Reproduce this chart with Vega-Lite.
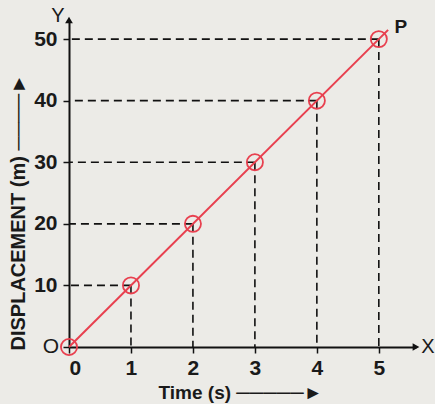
{
  "$schema": "https://vega.github.io/schema/vega-lite/v6.json",
  "width": 347,
  "height": 327,
  "autosize": "none",
  "padding": {"left": 69, "top": 20, "right": 19, "bottom": 57},
  "background": "#ecebe7",
  "config": {
    "view": {"stroke": null},
    "font": "Liberation Sans",
    "axis": {
      "grid": false,
      "domainColor": "#111111",
      "domainWidth": 2,
      "tickColor": "#111111",
      "tickWidth": 1.5,
      "tickSize": 6,
      "labelFont": "Liberation Sans",
      "labelFontSize": 21,
      "labelFontWeight": "bold",
      "labelColor": "#1a1a1a",
      "labelOverlap": false,
      "titleFont": "Liberation Sans",
      "titleColor": "#1a1a1a"
    }
  },
  "datasets": {
    "pts": [
      {"t": 0, "d": 0},
      {"t": 1, "d": 10},
      {"t": 2, "d": 20},
      {"t": 3, "d": 30},
      {"t": 4, "d": 40},
      {"t": 5, "d": 50}
    ],
    "line": [
      {"t": 0, "d": 0},
      {"t": 5.15, "d": 51.5}
    ],
    "labels": [
      {"t": 0, "d": 53.1, "text": "Y"},
      {"t": 5.6, "d": 0, "text": "X"},
      {"t": 0, "d": 0, "text": "O"},
      {"t": 5, "d": 50, "text": "P"}
    ]
  },
  "layer": [
    {
      "data": {"name": "pts"},
      "transform": [{"filter": "datum.t > 0"}],
      "mark": {"type": "rule", "color": "#111111", "strokeWidth": 1.6, "strokeDash": [8, 5]},
      "encoding": {
        "x": {"field": "t", "type": "quantitative", "scale": {"domain": [0, 5.6], "nice": false}},
        "x2": {"datum": 0},
        "y": {"field": "d", "type": "quantitative", "scale": {"domain": [0, 53.1], "nice": false}}
      }
    },
    {
      "data": {"name": "pts"},
      "transform": [{"filter": "datum.t > 0"}],
      "mark": {"type": "rule", "color": "#111111", "strokeWidth": 1.6, "strokeDash": [8, 5]},
      "encoding": {
        "x": {"field": "t", "type": "quantitative"},
        "y": {"field": "d", "type": "quantitative"},
        "y2": {"datum": 0}
      }
    },
    {
      "data": {"name": "line"},
      "mark": {"type": "line", "color": "#e8404f", "strokeWidth": 2},
      "encoding": {
        "x": {
          "field": "t", "type": "quantitative",
          "axis": {
            "values": [0, 0.5, 1, 1.5, 2, 2.5, 3, 3.5, 4, 4.5, 5],
            "labelExpr": "datum.value % 1 === 0 ? format(datum.value, 'd') : ''",
            "labelPadding": 4,
            "title": "Time (s) ─────►",
            "titleFontSize": 19,
            "titleFontWeight": "bold",
            "titleX": 171,
            "titleY": 45,
            "titleBaseline": "middle"
          }
        },
        "y": {
          "field": "d", "type": "quantitative",
          "axis": {
            "values": [0, 5, 10, 15, 20, 25, 30, 35, 40, 45, 50],
            "labelExpr": "datum.value % 10 === 0 && datum.value > 0 ? format(datum.value, 'd') : ''",
            "labelPadding": 6,
            "title": "DISPLACEMENT (m) ────►",
            "titleFontSize": 20,
            "titleFontWeight": "bold",
            "titleAnchor": "start",
            "titleAlign": "left",
            "titleAngle": 270,
            "titleX": -51,
            "titleY": 330,
            "titleBaseline": "middle"
          }
        }
      }
    },
    {
      "data": {"name": "pts"},
      "mark": {"type": "point", "shape": "circle", "filled": false, "color": "#e8404f", "strokeWidth": 1.8, "size": 260, "opacity": 1},
      "encoding": {
        "x": {"field": "t", "type": "quantitative"},
        "y": {"field": "d", "type": "quantitative"}
      }
    },
    {
      "data": {"name": "labels"},
      "transform": [{"filter": "datum.text === 'Y'"}],
      "mark": {"type": "point", "shape": "triangle-up", "filled": true, "color": "#111111", "size": 60, "opacity": 1},
      "encoding": {
        "x": {"field": "t", "type": "quantitative"},
        "y": {"field": "d", "type": "quantitative"}
      }
    },
    {
      "data": {"name": "labels"},
      "transform": [{"filter": "datum.text === 'X'"}],
      "mark": {"type": "point", "shape": "triangle-right", "filled": true, "color": "#111111", "size": 60, "opacity": 1},
      "encoding": {
        "x": {"field": "t", "type": "quantitative"},
        "y": {"field": "d", "type": "quantitative"}
      }
    },
    {
      "data": {"name": "labels"},
      "transform": [{"filter": "datum.text === 'Y'"}],
      "mark": {"type": "text", "fontSize": 20, "color": "#1a1a1a", "dx": -11, "dy": -4},
      "encoding": {
        "x": {"field": "t", "type": "quantitative"},
        "y": {"field": "d", "type": "quantitative"},
        "text": {"field": "text"}
      }
    },
    {
      "data": {"name": "labels"},
      "transform": [{"filter": "datum.text === 'X'"}],
      "mark": {"type": "text", "fontSize": 20, "color": "#1a1a1a", "dx": 12},
      "encoding": {
        "x": {"field": "t", "type": "quantitative"},
        "y": {"field": "d", "type": "quantitative"},
        "text": {"field": "text"}
      }
    },
    {
      "data": {"name": "labels"},
      "transform": [{"filter": "datum.text === 'O'"}],
      "mark": {"type": "text", "fontSize": 21, "color": "#1a1a1a", "dx": -18},
      "encoding": {
        "x": {"field": "t", "type": "quantitative"},
        "y": {"field": "d", "type": "quantitative"},
        "text": {"field": "text"}
      }
    },
    {
      "data": {"name": "labels"},
      "transform": [{"filter": "datum.text === 'P'"}],
      "mark": {"type": "text", "fontSize": 19, "fontWeight": "bold", "color": "#1a1a1a", "dx": 22, "dy": -12},
      "encoding": {
        "x": {"field": "t", "type": "quantitative"},
        "y": {"field": "d", "type": "quantitative"},
        "text": {"field": "text"}
      }
    }
  ]
}
